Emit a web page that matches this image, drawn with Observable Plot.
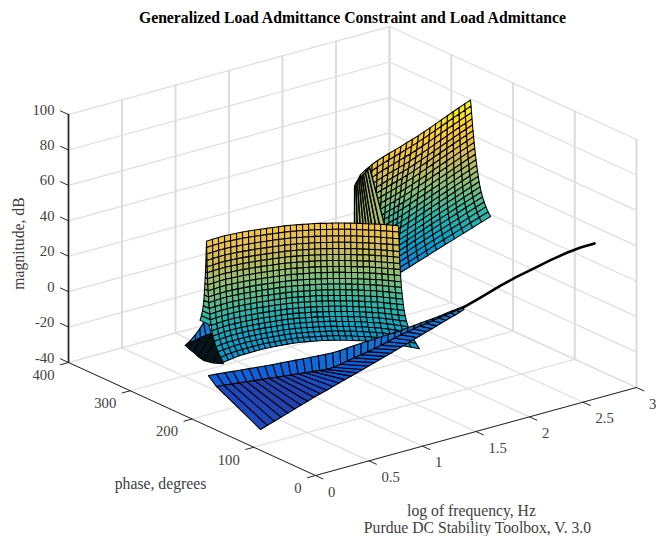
<!DOCTYPE html>
<html><head><meta charset="utf-8">
<style>html,body{margin:0;padding:0;background:#fff}svg{display:block}</style>
<script src="https://cdn.jsdelivr.net/npm/d3@7"></script>
<script src="https://cdn.jsdelivr.net/npm/@observablehq/plot@0.6"></script>
</head><body><div id="chart"></div>
<script>
// Values. Edges and row/column profiles were read directly;
// interior mesh vertices of the two walls are combined from those measured profiles,
// not read one at a time.
const freqTicks=[0,0.5,1,1.5,2,2.5,3];
const freqTickLabels=["0","0.5","1","1.5","2","2.5","3"];
const phaseTicks=[0,100,200,300,400];
const magTicks=[-40,-20,0,20,40,60,80,100];
const parula=["#352a87","#0f5cdd","#1481d6","#06a4ca","#2eb7a4","#87bf77","#d1bb59","#fec832","#f9fb0e"];

// Front wall of the constraint
const wall1Freq=[.049,.108,.166,.223,.275,.325,.375,.423,.472,.518,.563,.61,.655,.7,.743,.784,.825,.865,.905,.942,.98,1.016,1.051,1.086,1.121,1.155,1.187,1.22,1.251,1.281,1.31,1.339,1.368];
const wall1Phase=[185,185.6,186,186,185.3,184.3,183.3,181.8,180.4,178.8,176.9,175.3,173.4,171.5,169.3,166.7,163.9,161.1,158.4,155.3,152,148.6,144.9,141.3,137.5,133.6,129.5,125.4,121.1,116.6,112.1,107.4,102.6];
const wall1Spread=[-27.5,-26.2,-25.1,-23.8,-22.7,-21.4,-20.2,-18.9,-17.8,-17,-16.2,-15.4,-14.6,-14.1,-13.8,-13.3,-13,-13,-13,-13,-13,-13.3,-13.8,-14.1,-14.6,-15.7,-17,-18.1,-19.4,-23,-26.7,-30.3,-34];
const wall1Mag=[62,58.5,54.8,51.2,47.7,44.4,41,37.7,34.4,31,27.9,24.7,21.6,18.6,15.6,12.8,10.1,7.5,4.9,2.5,.1,-2];
const wall1Flare=[0,.01,.02,.03,.04,.05,.06,.08,.1,.12,.14,.17,.2,.23,.27,.32,.38,.46,.56,.68,.83,1];
const wall1NeckOut=[0,.3,.6,.9,1.3,1.7,2.1,2.6,3.2,3.7,4.3,5.3,6.5,8.3,10.5];

// Foot of the front wall: [freq, phase, magnitude]
const footBlueTop=[[.312,265,-14],[.407,272.8,-14],[.513,283.1,-14],[.615,293.7,-14],[.712,304.8,-14],[.761,306.8,-14]];
const footBlueLow=[[.312,265,-14],[.381,268.4,-14],[.436,269.8,-14],[.497,272.3,-14],[.561,274.5,-14],[.618,275.6,-14]];
const footDarkFold=[[.221,249.3,-10],[.314,253.7,-10],[.413,257.7,-10],[.528,259.9,-10],[.443,240.4,-10],[.326,213.6,-10],[.211,185.5,-10]];
const footDarkRim=[[.221,249.3,-10],[.195,237.8,-10],[.18,228.7,-10],[.151,215.8,-10],[.136,205,-10],[.157,194,-10],[.211,185.5,-10]];

// Rear wall of the constraint
const wall2Freq=[3.033,2.976,2.92,2.863,2.805,2.745,2.687,2.63,2.574,2.518,2.464,2.412,2.36,2.308,2.259,2.207,2.151,2.094,2.024,1.947,1.793];
const wall2Phase=[274.5,274.1,273.8,273.3,272.6,271.8,271.1,270.4,270.1,269.8,269.8,270.3,270.7,271.1,272,272.4,272.2,271.5,268.8,264.8,247.5];
const wall2Drift=[-13,-7.8,-2.6,2.6,7.8,13,18.1,23.3,28.5,33.7,38.9,34.6,30.4,26.2,22,17.8,13.6,9.4,5.2,1,-3.2];
const wall2MagTop=[78,76.8,75.6,74.4,73.2,72,70.8,69.6,68.4,67.2,66,64.8,63.6,62.4,61.2,60,58.8,57.6,56.4,55.2,54];
const wall2MagBottom=[17.4,14.4,11.4,8.4,5.5,2.6,-.2,-3.2,-6.2,-9.3,-12.3,-12,-11.7,-11.3,-11.1,-10.8,-10.3,-9.7,-8.5,-7.1,-2.2];
const wall2Depth=[0,.055,.113,.169,.223,.275,.328,.38,.431,.484,.533,.583,.631,.678,.725,.769,.811,.852,.892,.93,.967,1];
const wall2RowDrift=[0,.05,.1,.14,.19,.24,.29,.33,.38,.43,.48,.52,.57,.62,.67,.71,.76,.81,.86,.9,.95,1];
const wall2RowFlare=[0,-.2,-.4,-.6,-.8,-1,-1.2,-1.6,-1.9,-2.3,-2.7,-3.3,-3.9,-4.5,-5.2,-6.2,-7.4,-8.9,-10.9,-13.2,-16.1,-19.4];
const foldTop=[[1.839,255.4,52],[1.886,261.2,52],[1.926,265.8,52],[1.961,269.3,52],[1.989,271.7,52],[2.017,274.2,52],[2.045,276.6,52],[2.082,279.8,52],[2.126,284.1,52],[2.17,288.4,52]];
const foldLow=[[1.799,248.6,30],[1.816,246.8,30],[1.834,245,30],[1.852,243.2,30],[1.869,241.4,30],[1.887,239.5,30],[1.904,237.7,30],[1.927,235.3,30],[1.951,232.9,30],[1.98,229.8,30]];

// Load admittance band
const loadFreq=[.241,.301,.362,.421,.479,.539,.598,.654,.712,.769,.825,.87,.915,.959,1.005,1.047,1.104,1.173,1.242,1.3,1.367,1.435,1.492,1.562,1.633,1.693,1.751,1.816,1.879,1.93,1.979,2.028,2.075,2.123,2.169,2.215,2.26];
const loadPhaseTop=[215.2,212.2,209.2,206.5,203.3,200.8,198.1,195.2,192.5,190,187.3,182.6,178.4,173.8,169.7,165.3,163.4,163.5,164,162.6,162.9,163.5,162.2,163.4,164.7,164.3,163.6,164.4,164.6,163.5,161.6,159.8,158.3,156.4,154.5,152.8,151.1];
const loadMagTop=[-21.9,-21.6,-21.3,-21.1,-20.8,-20.6,-20.4,-20.1,-19.8,-19.6,-19.2,-18.4,-17.7,-16.8,-16.1,-15.3,-15,-14.9,-14.8,-14.1,-14,-13.9,-13.5,-13.5,-13.7,-13.3,-13,-12.7,-12.5,-11.8,-11.1,-10.3,-9.5,-8.5,-7.6,-6.8,-5.9];
const loadPhaseMid=[202.2,200.2,198.2,196.3,194.1,192.2,190.3,188.4,186.3,184.5,182.6,178.6,174.8,170.9,167.3,163.4,161.9,162.5,163.4,162.4,163.1,164,163,164.5,166,165.9,165.4,166.2,166.7,165.4,163.7,161.9,160.2,158.3,156.3,154.4,152.7];
const loadMagMid=[-26,-26,-26,-26,-26,-26,-26,-26,-26,-26,-26,-25.5,-25,-24.5,-24,-23.5,-23,-22.5,-22,-21,-20.5,-20,-19,-18.5,-18,-17,-16,-15.5,-15,-14,-13,-12,-11,-10,-9,-8,-7];
const loadFreqLow=[.153,.27,.386,.501,.636,.727,.815,.892,.946,.983,1.043,1.024,1.092,1.161,1.23,1.296,1.36,1.427,1.491,1.542,1.603,1.663,1.716,1.776,1.833,1.882,1.928,1.973,2.016,2.057,2.1,2.14,2.18,2.196,2.211,2.227,2.252];
const loadPhaseLow=[115.5,124.5,133.4,142.3,154.8,159.9,164.5,167.2,166.2,162.4,162.4,149.2,151.1,153.1,155.2,157.2,158.9,161.2,163.1,162.8,164.5,166,166.3,168.2,169.6,169.6,169.4,169,168.7,167.7,167.4,166.9,166.3,161.7,156.9,152.5,149.9];
const loadMagLow=[-35,-36,-37,-38,-40,-40,-40,-39.5,-38,-36,-35,-30.5,-30,-29.5,-29,-28.5,-28,-27.5,-27,-26,-25.5,-25,-24,-23.5,-23,-22,-21,-20,-19,-18,-17,-16,-15,-13,-11,-9,-7.5];
const tailFreq=[2.26,2.35,2.455,2.516,2.614,2.716,2.817,2.904,3];
const tailPhase=[152.7,140,125,112,100,90,80,74,68];
const tailMag=[-7,-.8,6.7,12.3,17.6,22.3,26.5,28.8,30.5];

// Orthographic view of the 3-D box
const sx=(f,p)=>315+107*f-0.6175*p;
const sy=(f,p,z)=>475-29.33*f-0.2825*p-1.771*(z+40);
const V=(f,p,z)=>({f,p,z});
const vx=d=>sx(d.f,d.p), vy=d=>sy(d.f,d.p,d.z);

const wall1Rows=wall1Mag.map((z,i)=>wall1Freq.map((f,j)=>V(f,wall1Phase[j]+wall1Flare[i]*wall1Spread[j],z)));
const neckRows=wall1NeckOut.map((o,i)=>[V(wall1Freq[0],wall1Phase[0]+o,wall1Mag[i]),wall1Rows[i][0]]);
const wall2Rows=wall2Depth.map((t,i)=>wall2Freq.map((f,k)=>V(f,wall2Phase[k]+wall2RowDrift[i]*wall2Drift[k]+wall2RowFlare[i],wall2MagTop[k]+t*(wall2MagBottom[k]-wall2MagTop[k]))));
const T=r=>r.map(a=>V(a[0],a[1],a[2]));
const loadRows=[loadFreq.map((f,j)=>V(f,loadPhaseTop[j],loadMagTop[j])),loadFreq.map((f,j)=>V(f,loadPhaseMid[j],loadMagMid[j])),loadFreqLow.map((f,j)=>V(f,loadPhaseLow[j],loadMagLow[j]))];

let cellId=0;
function cells(rows){
  const out=[];
  for(let i=0;i+1<rows.length;i++)for(let j=0;j+1<rows[i].length;j++){
    const q=[rows[i][j],rows[i][j+1],rows[i+1][j+1],rows[i+1][j]];
    const mag=d3.mean(q,d=>d.z),id=cellId++;
    for(const v of [...q,q[0]])out.push({...v,id,mag});
  }
  return out;
}
const mesh=(rows,w,fill="mag")=>Plot.line(cells(rows),{x:vx,y:vy,z:"id",fill,stroke:"#000",strokeWidth:w,curve:"linear"});

// Grid lines on the floor and on the two back walls
const zLo=-40,zHi=100,fHi=3,pHi=400;
const gridSlant=[],gridUp=[];
const seg=(arr,a,b)=>{const id=arr.length;arr.push({...a,id},{...b,id});};
for(const f of freqTicks){seg(gridSlant,V(f,0,zLo),V(f,pHi,zLo));seg(gridUp,V(f,pHi,zLo),V(f,pHi,zHi));}
for(const p of phaseTicks){seg(gridSlant,V(0,p,zLo),V(fHi,p,zLo));seg(gridUp,V(fHi,p,zLo),V(fHi,p,zHi));}
for(const z of magTicks){seg(gridSlant,V(0,pHi,z),V(fHi,pHi,z));seg(gridSlant,V(fHi,pHi,z),V(fHi,0,z));}
const axisLines=[];
seg(axisLines,V(0,0,zLo),V(fHi,0,zLo));seg(axisLines,V(0,0,zLo),V(0,pHi,zLo));
const zAxis=[];seg(zAxis,V(0,pHi,zLo),V(0,pHi,zHi));
const tickLines=[];
for(const f of freqTicks)seg(tickLines,V(f,0,zLo),V(f,-12,zLo));
for(const p of phaseTicks)seg(tickLines,V(0,p,zLo),V(-.075,p,zLo));
for(const z of magTicks)seg(tickLines,V(0,pHi,z),V(0,pHi+13,z));

const ink="#404040",serif="Liberation Serif";
const lineOf=(data,o)=>Plot.line(data,{x:vx,y:vy,z:"id",curve:"linear",...o});
const plot=Plot.plot({
  width:656,height:536,margin:0,
  style:{background:"#fff",fontFamily:serif},
  x:{domain:[0,656],range:[0,656],axis:null},
  y:{domain:[0,536],range:[0,536],axis:null},
  color:{type:"linear",domain:[-40,78],interpolate:d3.piecewise(d3.interpolateRgb,parula),clamp:true},
  marks:[
    lineOf(gridSlant,{stroke:"#dedede",strokeWidth:1.2}),
    lineOf(gridUp,{stroke:"#dcdcdc",strokeWidth:2}),
    lineOf(axisLines,{stroke:"#262626",strokeWidth:1}),
    lineOf(zAxis,{stroke:"#262626",strokeWidth:1.6}),
    lineOf(tickLines,{stroke:"#262626",strokeWidth:1}),
    mesh(wall2Rows,1.05),
    mesh([T(foldTop),T(foldLow)],1.4),
    mesh([T(footBlueTop),T(footBlueLow)],1.05),
    mesh(neckRows,1.05),
    mesh([T(footDarkFold),T(footDarkRim)],1,"#06141c"),
    mesh(wall1Rows,1.05),
    mesh(loadRows,1.1),
    Plot.line(tailFreq.map((f,i)=>V(f,tailPhase[i],tailMag[i])),{x:vx,y:vy,stroke:"#000",strokeWidth:2.6,curve:"linear"}),
    Plot.text(magTicks,{x:()=>sx(0,pHi+13),y:z=>sy(0,pHi+13,z),text:d=>String(d),textAnchor:"end",dx:-6,dy:-1,fontSize:14.7,fill:ink}),
    Plot.text(phaseTicks,{x:p=>sx(-.075,p),y:p=>sy(-.075,p,zLo),text:d=>String(d),textAnchor:"end",dx:-6,dy:10.5,fontSize:14.7,fill:ink}),
    Plot.text(freqTicks,{x:f=>sx(f,-12),y:f=>sy(f,-12,zLo),text:(d,i)=>freqTickLabels[i],textAnchor:"start",dx:5,dy:13,fontSize:14.7,fill:ink}),
    Plot.text(["magnitude, dB"],{x:()=>sx(0,pHi),y:()=>sy(0,pHi,30),rotate:-90,dx:-50,dy:5,fontSize:15.7,fill:ink}),
    Plot.text(["phase, degrees"],{x:()=>sx(0,200),y:()=>sy(0,200,zLo),dx:-31.5,dy:64.5,fontSize:15.7,fill:ink}),
    Plot.text(["log of frequency, Hz"],{x:()=>sx(1.5,0),y:()=>sy(1.5,0,zLo),dx:-4.5,dy:79,fontSize:15.7,fill:ink}),
    Plot.text(["Purdue DC Stability Toolbox, V. 3.0"],{x:()=>sx(1.5,0),y:()=>sy(1.5,0,zLo),dx:1.5,dy:96.5,fontSize:15.7,fill:ink}),
    Plot.text(["Generalized Load Admittance Constraint and Load Admittance"],{frameAnchor:"top",dx:24,dy:17,lineAnchor:"middle",fontSize:15.7,fontWeight:"bold",fill:"#000"})
  ]
});
document.getElementById("chart").append(plot);
</script></body></html>
